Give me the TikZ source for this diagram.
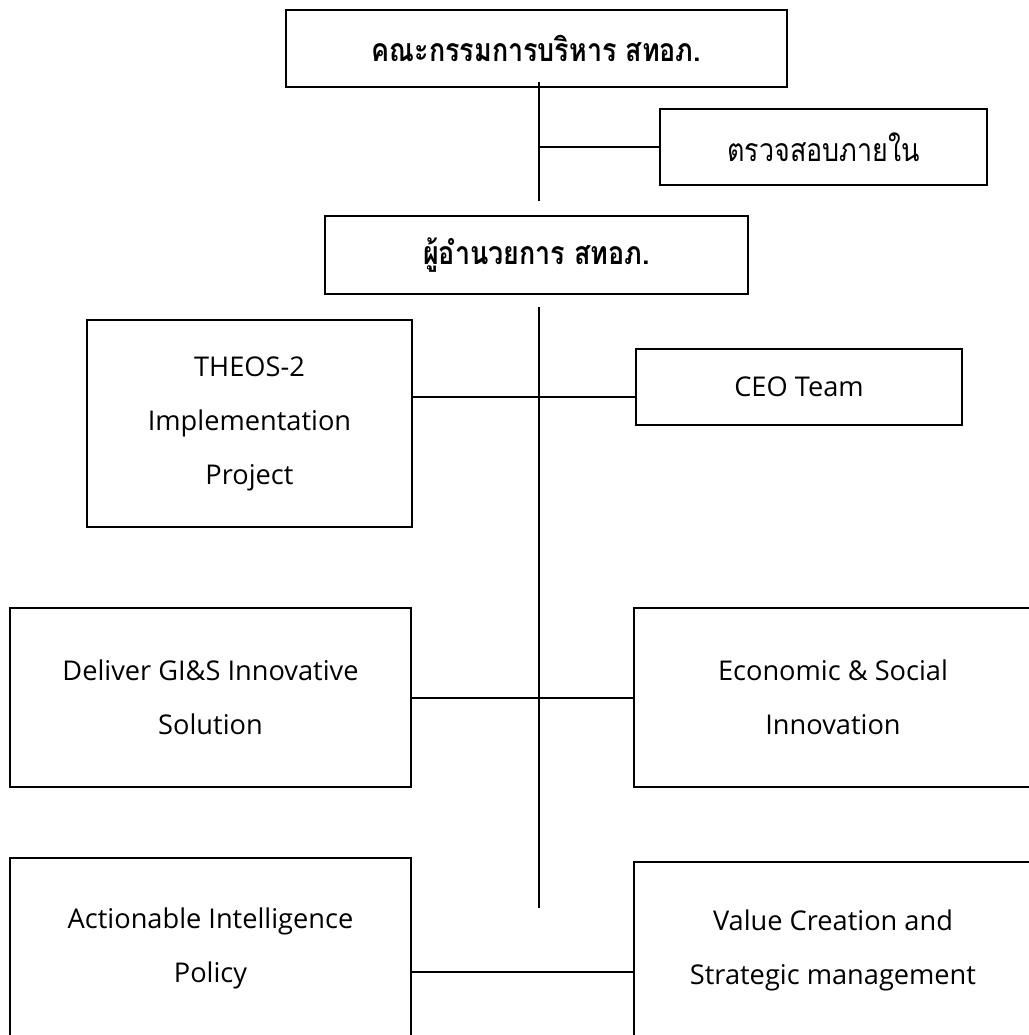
\documentclass[tikz,border=0pt]{standalone}
\usepackage{fontspec}
\setmainfont{Open Sans}
\newfontfamily\thaifont[Script=Thai,FakeStretch=0.84]{Loma}
\begin{document}
\begin{tikzpicture}[x=0.5pt,y=-0.5pt,line width=1pt]
    \tikzset{box/.style={draw,rectangle,inner sep=0pt,align=center,
            font=\fontsize{13.6}{27}\selectfont},
        thaibox/.style={box,font=\fontsize{16}{27}\selectfont\thaifont},
        thaibold/.style={box,font=\fontsize{16}{27}\selectfont\thaifont\bfseries}}
    \useasboundingbox (0,0) rectangle (1029,1035);

    \node[thaibold, minimum width=250.5pt, minimum height=38.5pt] (board) at (536.5, 48.5) {คณะกรรมการบริหาร สทอภ.};
    \node[thaibox, minimum width=163.5pt, minimum height=38pt] (audit) at (823.5, 147) {ตรวจสอบภายใน};
    \node[thaibold, minimum width=211.5pt, minimum height=39pt] (director) at (536.5, 255) {ผู้อำนวยการ สทอภ.};

    \node[box, minimum width=162.5pt, minimum height=103.5pt] (theos) at (249.5, 423.5) {THEOS-2\\Implementation\\Project};
    \node[box, minimum width=163pt, minimum height=38pt] (ceo) at (799, 387) {CEO Team};
    \node[box, minimum width=200.5pt, minimum height=89.5pt] (deliver) at (210.5, 697.5) {Deliver GI\&S Innovative\\Solution};
    \node[box, minimum width=199pt, minimum height=89.5pt] (econ) at (833, 697.5) {Economic \& Social\\Innovation};
    \node[box, minimum width=200.5pt, minimum height=90pt] (action) at (210.5, 948) {Actionable Intelligence\\Policy};
    \node[box, minimum width=199pt, minimum height=88pt] (value) at (833, 950) {Value Creation and\\Strategic management};

    \coordinate (t1) at (539, 82);
    \coordinate (t2) at (539, 201);
    \coordinate (t3) at (539, 307);
    \coordinate (t4) at (539, 908);
    \coordinate (midlink) at (539, 397);
    \coordinate (lowlink) at (539, 972);

    \draw (t1) -- (t2);
    \draw (t1 |- audit.west) -- (audit.west);
    \draw (t3) -- (t4);
    \draw (theos.east |- midlink) -- (ceo.west |- midlink);
    \draw (deliver.east) -- (econ.west);
    \draw (action.east |- lowlink) -- (value.west |- lowlink);
\end{tikzpicture}
\end{document}
